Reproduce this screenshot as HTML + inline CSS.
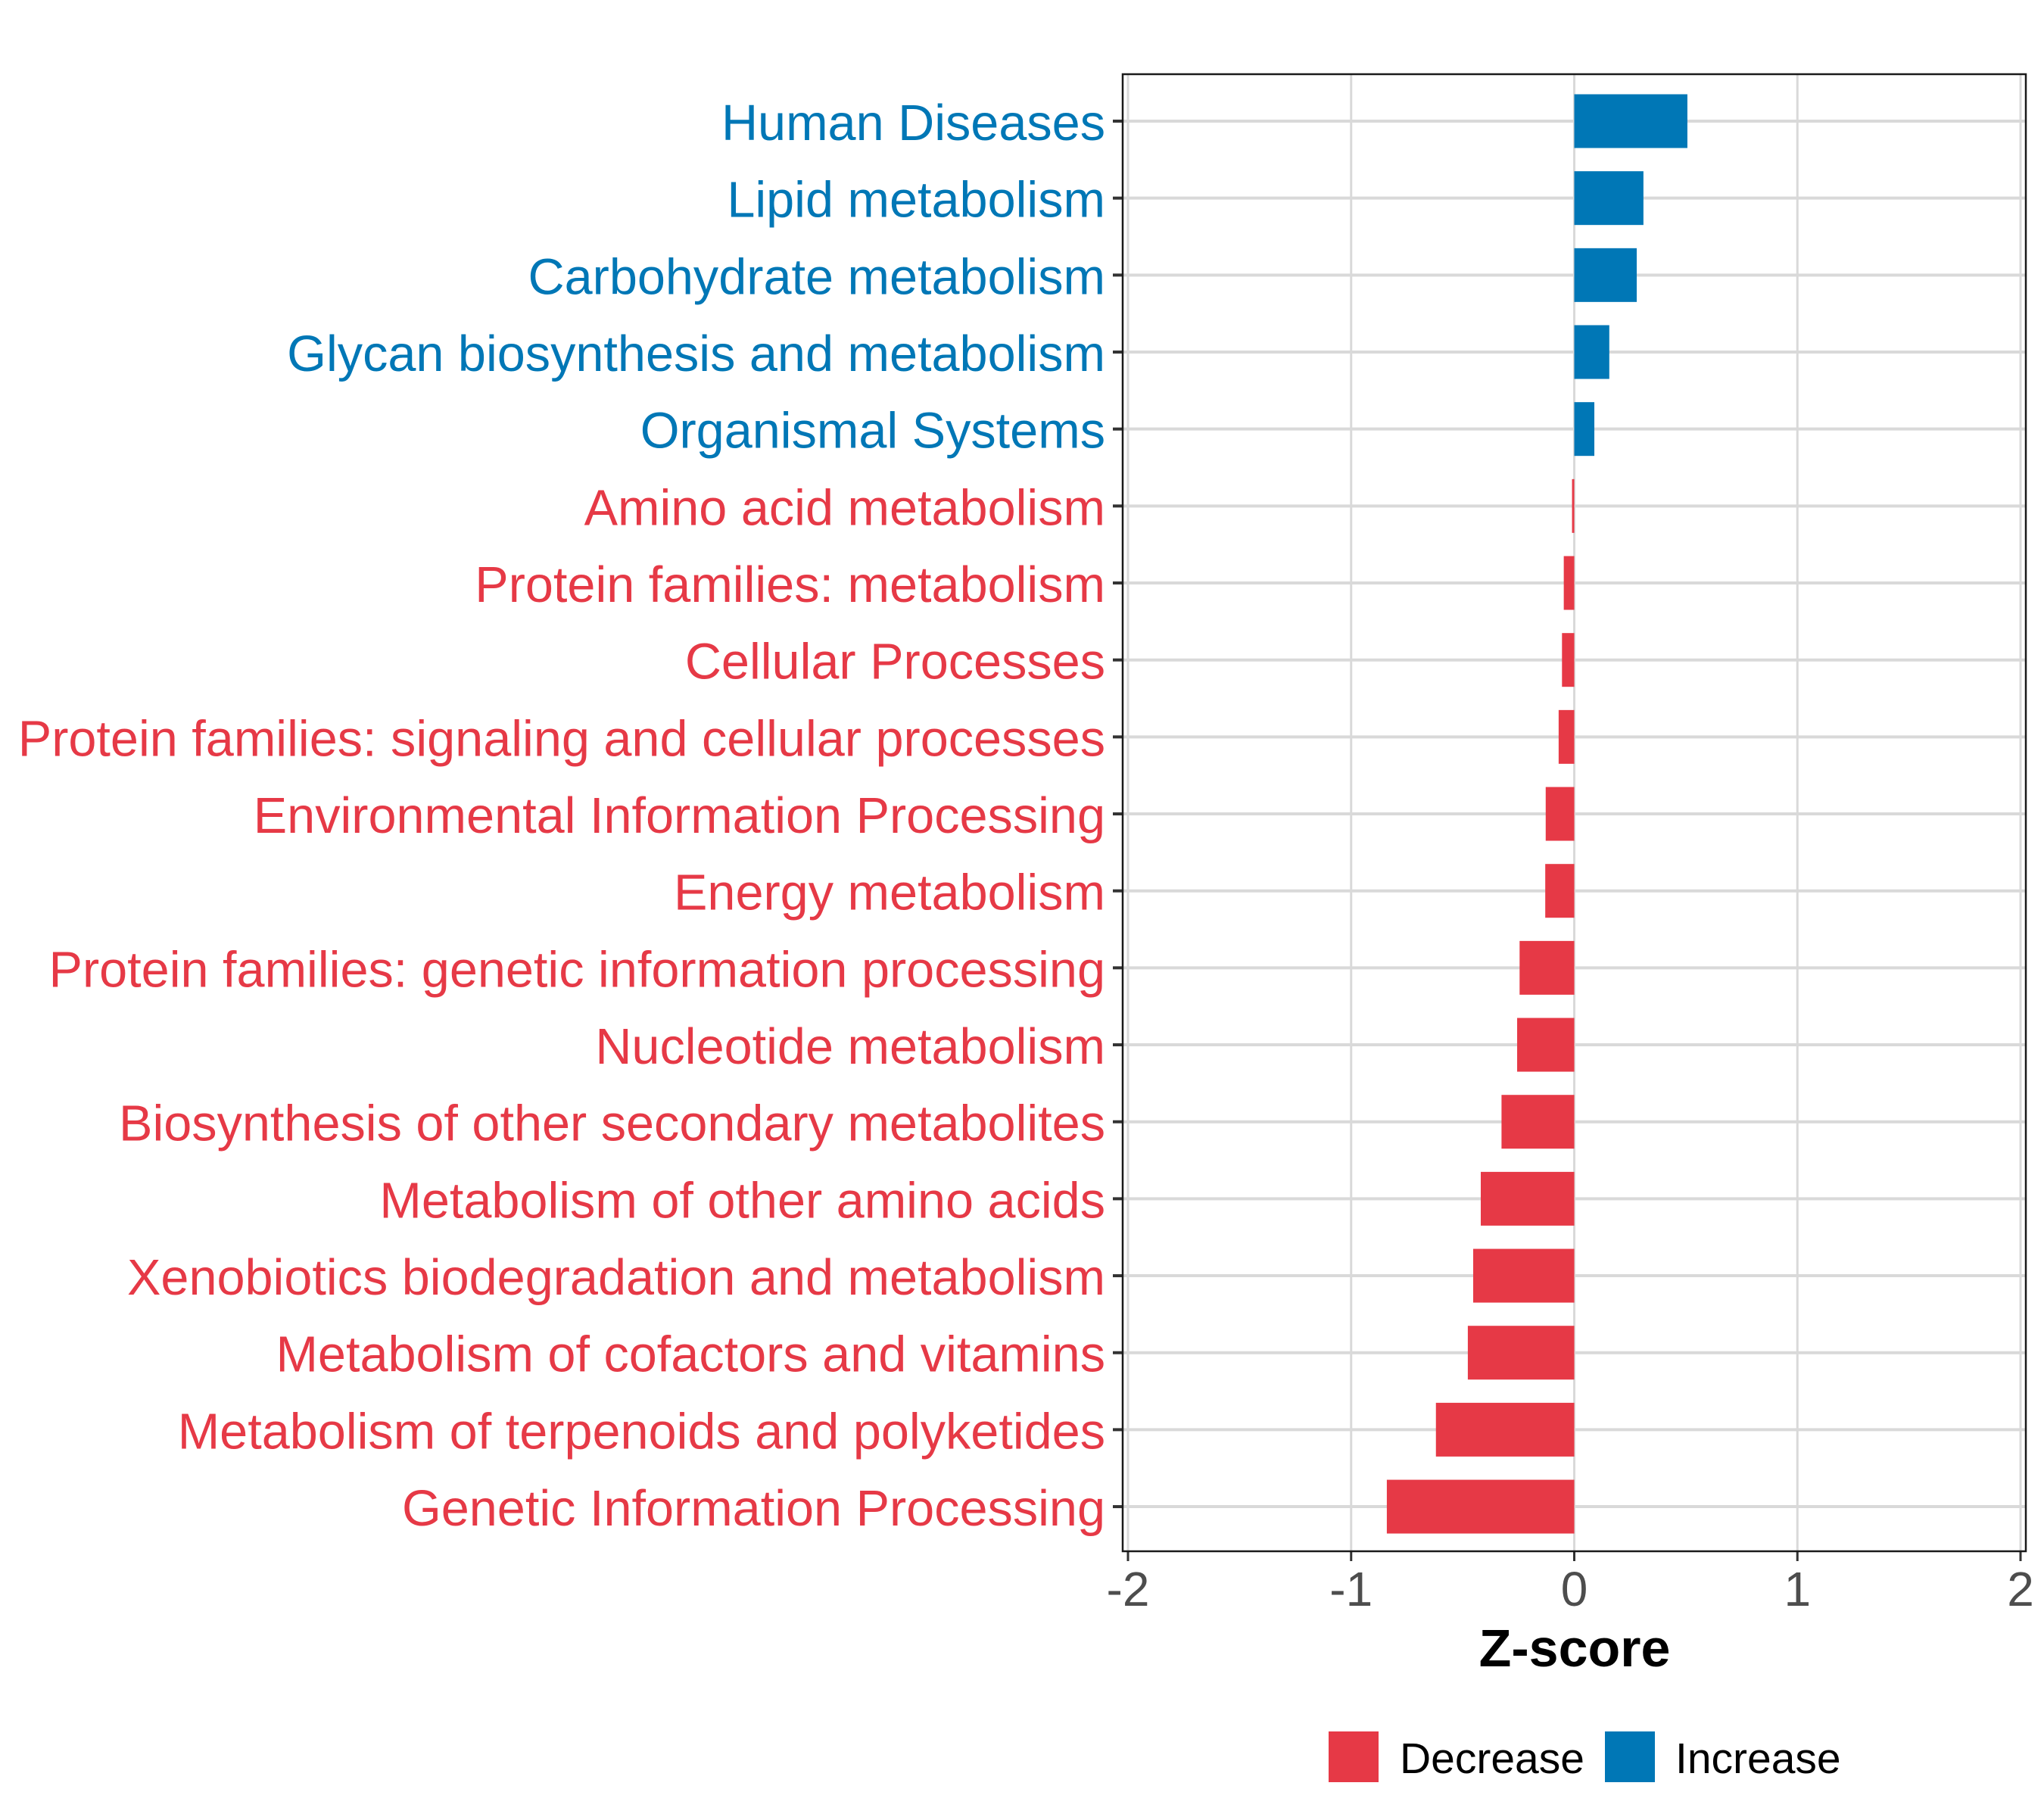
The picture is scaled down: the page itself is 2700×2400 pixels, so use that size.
<!DOCTYPE html>
<html><head><meta charset="utf-8"><style>
html,body{margin:0;padding:0;background:#fff;}
svg{display:block;font-family:"Liberation Sans",sans-serif;}
</style></head><body>
<svg id="chart" width="2700" height="2400" viewBox="0 0 2700 2400" xmlns="http://www.w3.org/2000/svg">
<rect width="2700" height="2400" fill="#fff"/>
<g id="grid"></g>
<g id="bars"></g>
<g id="ylabels"></g>
<g id="xaxis"></g>
<rect id="panel" fill="none" stroke="#1a1a1a" stroke-width="2.5"/>
<text x="2080" y="2201" text-anchor="middle" font-size="70" font-weight="bold" fill="#000">Z-score</text>
<g>
<rect x="1755" y="2287" width="66" height="67" fill="#e63946"/>
<text x="1849" y="2342" font-size="57" fill="#000">Decrease</text>
<rect x="2120" y="2287" width="66" height="67" fill="#0077b6"/>
<text x="2213" y="2342" font-size="57" fill="#000">Increase</text>
</g>
</svg>
<script>
const categories = ["Human Diseases","Lipid metabolism","Carbohydrate metabolism","Glycan biosynthesis and metabolism","Organismal Systems","Amino acid metabolism","Protein families: metabolism","Cellular Processes","Protein families: signaling and cellular processes","Environmental Information Processing","Energy metabolism","Protein families: genetic information processing","Nucleotide metabolism","Biosynthesis of other secondary metabolites","Metabolism of other amino acids","Xenobiotics biodegradation and metabolism","Metabolism of cofactors and vitamins","Metabolism of terpenoids and polyketides","Genetic Information Processing"];
const zscores = [0.507,0.31,0.28,0.157,0.09,-0.01,-0.047,-0.055,-0.07,-0.128,-0.13,-0.245,-0.256,-0.326,-0.419,-0.453,-0.477,-0.62,-0.84];
const xTicks = [-2,-1,0,1,2];
const xTickLabels = ["-2","-1","0","1","2"];

const NS="http://www.w3.org/2000/svg";
const PL=1483, PR=2676, PT=98, PB=2049;
const X0=2079.5, UNIT=294.75;
function xs(v){return X0+v*UNIT;}
const ROW0=160, STEP=101.67;
function ys(i){return ROW0+i*STEP;}
const BARH=71;
const RED="#e63946", BLUE="#0077b6";
function mk(tag,attrs,parent){const e=document.createElementNS(NS,tag);for(const k in attrs)e.setAttribute(k,attrs[k]);parent.appendChild(e);return e;}

const panel=document.getElementById('panel');
panel.setAttribute('x',PL);panel.setAttribute('y',PT);panel.setAttribute('width',PR-PL);panel.setAttribute('height',PB-PT);

const grid=document.getElementById('grid');
xTicks.forEach(function(t){
  const l=mk('line',{x1:xs(t),x2:xs(t),y1:PT,y2:PB,stroke:'#d9d9d9','stroke-width':3},grid);
  
  
});
categories.forEach(function(c,i){
  const l=mk('line',{x1:PL,x2:PR,y1:ys(i),y2:ys(i),stroke:'#d9d9d9','stroke-width':4},grid);
  
  
});

const bars=document.getElementById('bars');
const ylab=document.getElementById('ylabels');
categories.forEach(function(c,i){
  const v=zscores[i];
  const col=v>=0?BLUE:RED;
  const x=Math.min(xs(0),xs(v)), w=Math.abs(xs(v)-xs(0));
  const r=mk('rect',{x:x,y:ys(i)-BARH/2,width:Math.max(w,1.5),height:BARH,fill:col},bars);
  
  
  const t=mk('text',{x:1460,y:ys(i)+25,'text-anchor':'end','font-size':66.6,fill:col},ylab);
  t.textContent=c;
  
  
  const tk=mk('line',{x1:1470,x2:PL,y1:ys(i),y2:ys(i),stroke:'#333','stroke-width':4},ylab);
  
  
});

const xa=document.getElementById('xaxis');
xTicks.forEach(function(t,i){
  const tk=mk('line',{x1:xs(t),x2:xs(t),y1:PB,y2:PB+13,stroke:'#333','stroke-width':3},xa);
  
  
  const tl=mk('text',{x:xs(t),y:2121,'text-anchor':'middle','font-size':64,fill:'#4d4d4d'},xa);
  tl.textContent=xTickLabels[i];
  
  
});
</script>
</body></html>
